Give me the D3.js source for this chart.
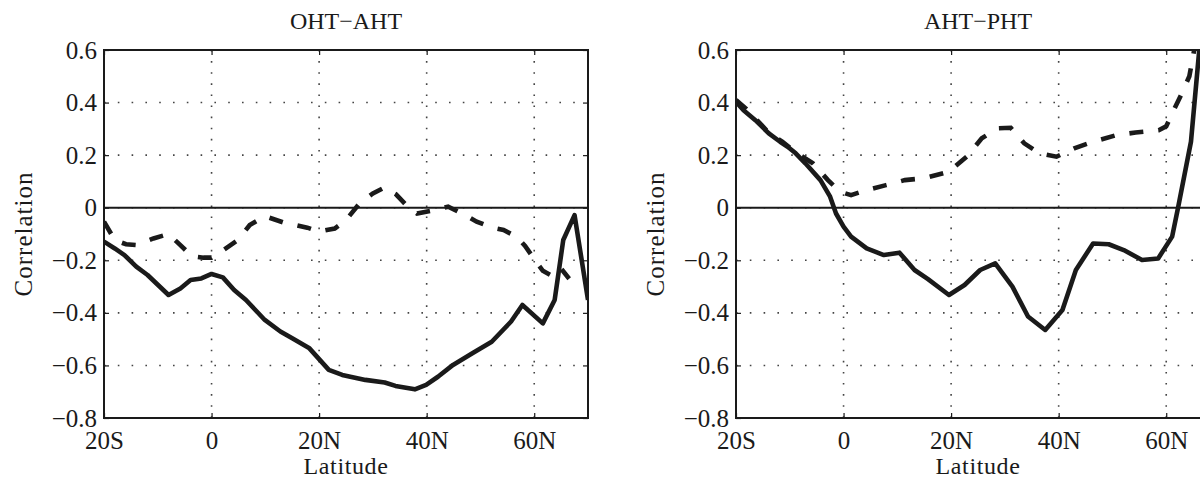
<!DOCTYPE html>
<html>
<head>
<meta charset="utf-8">
<script src="https://cdnjs.cloudflare.com/ajax/libs/d3/7.8.5/d3.min.js"></script>
<style>
  body { margin: 0; background: #fff; }
  svg { display: block; }
  svg text { font-family: 'Liberation Serif', 'Times New Roman', serif; }
</style>
</head>
<body>
<svg id="svg" width="1200" height="480"></svg>
<script>
// --- DATA ---
const latTicks = [-20, 0, 20, 40, 60];
const latTickLabels = ["20S", "0", "20N", "40N", "60N"];
const corrTicks = [0.6, 0.4, 0.2, 0, -0.2, -0.4, -0.6, -0.8];
const corrTickLabels = ["0.6", "0.4", "0.2", "0", "\u22120.2", "\u22120.4", "\u22120.6", "\u22120.8"];

// OHT-AHT, solid
const ohtAhtSolidLat = [-20, -18, -16.2, -14, -11.9, -8, -5.8, -3.9, -1.9, 0, 2.1, 4.2, 6.4, 9.9, 12.8, 15, 18.2, 21.8, 24.3, 28.6, 32.2, 34.2, 37.8, 39.9, 42.1, 44.9, 48.5, 52.1, 55.7, 57.8, 61.6, 63.8, 65.4, 67.5, 70];
const ohtAhtSolid = [-0.129, -0.155, -0.18, -0.224, -0.256, -0.332, -0.307, -0.275, -0.269, -0.252, -0.265, -0.313, -0.351, -0.427, -0.471, -0.497, -0.535, -0.617, -0.636, -0.655, -0.665, -0.678, -0.691, -0.674, -0.643, -0.598, -0.554, -0.51, -0.433, -0.37, -0.44, -0.351, -0.123, -0.028, -0.351];

// OHT-AHT, dashed
const ohtAhtDashLat = [-20, -18, -15.9, -14, -10.8, -8, -5.8, -3.7, -1.5, 0, 2.1, 4.9, 7.1, 9.9, 13.5, 15.7, 17.8, 20, 22.9, 25, 27.5, 30, 32.2, 34.3, 36.8, 38.2, 41.4, 44, 47.2, 49.3, 52.2, 54.3, 56.7, 58.3, 60, 61.6, 63.4, 65, 66.5];
const ohtAhtDash = [-0.053, -0.123, -0.139, -0.142, -0.117, -0.1, -0.142, -0.184, -0.19, -0.19, -0.163, -0.123, -0.066, -0.032, -0.057, -0.066, -0.076, -0.091, -0.079, -0.047, 0.016, 0.054, 0.077, 0.051, -0.003, -0.022, -0.009, 0.004, -0.028, -0.053, -0.076, -0.085, -0.11, -0.145, -0.195, -0.24, -0.26, -0.232, -0.27];

// AHT-PHT, solid
const ahtPhtSolidLat = [-20, -18.6, -16.4, -13.9, -11.8, -10.4, -8.9, -7.1, -4.3, -2.5, -1.4, 0, 1.4, 4.3, 7.5, 10.4, 13.2, 15.7, 19.6, 22.5, 25.4, 28.2, 31.4, 34.3, 37.5, 40.7, 43.2, 46.4, 49.3, 52.1, 55.5, 58.5, 61.1, 62.2, 64.6, 66.5];
const ahtPhtSolid = [0.403, 0.371, 0.333, 0.283, 0.251, 0.232, 0.207, 0.169, 0.105, 0.042, -0.022, -0.072, -0.11, -0.155, -0.18, -0.171, -0.237, -0.272, -0.332, -0.294, -0.237, -0.212, -0.3, -0.414, -0.465, -0.389, -0.237, -0.136, -0.139, -0.161, -0.199, -0.193, -0.11, 0.0, 0.251, 0.68];

// AHT-PHT, dashed
const ahtPhtDashLat = [-20, -18.2, -16.4, -13.9, -11.4, -8.6, -5.7, -2.9, -0.7, 1.4, 4.3, 7.9, 11.4, 15, 19.6, 22.9, 25.7, 28.6, 31.1, 33.6, 36.4, 39.6, 42.9, 46.4, 50.7, 54.3, 58.6, 60, 61.4, 62.9, 64.3, 65.2, 66.5];
const ahtPhtDash = [0.41, 0.378, 0.34, 0.285, 0.251, 0.207, 0.169, 0.105, 0.061, 0.048, 0.067, 0.086, 0.105, 0.112, 0.137, 0.194, 0.264, 0.302, 0.304, 0.245, 0.207, 0.194, 0.226, 0.251, 0.276, 0.286, 0.295, 0.31, 0.371, 0.435, 0.5, 0.6, 0.75];

// --- LAYOUT ---
const PLOT_W = 484, PLOT_H = 368, TOP = 50;
const FONT = 25;
const SERIF = "'Liberation Serif', 'Times New Roman', serif";
const INK = "#1a1a1a";

const svg = d3.select("#svg");
svg.append("rect").attr("width", 1200).attr("height", 480).attr("fill", "#fff");

function drawPanel(left, title, id, solidLat, solid, dashLat, dash) {
  const g = svg.append("g").attr("transform", `translate(${left},${TOP})`);

  const x = d3.scaleLinear().domain([-20, 70]).range([0, PLOT_W]);
  const y = d3.scaleLinear().domain([-0.8, 0.6]).range([PLOT_H, 0]);

  // dotted grid
  g.append("g").selectAll("line").data(latTicks.slice(1)).enter().append("line")
    .attr("x1", d => x(d)).attr("x2", d => x(d))
    .attr("y1", 0).attr("y2", PLOT_H)
    .attr("stroke", "#444").attr("stroke-width", 1.6)
    .attr("stroke-dasharray", "1.6,9.5");
  g.append("g").selectAll("line").data(corrTicks.slice(1, -1)).enter().append("line")
    .attr("x1", 0).attr("x2", PLOT_W)
    .attr("y1", d => y(d)).attr("y2", d => y(d))
    .attr("stroke", "#444").attr("stroke-width", 1.6)
    .attr("stroke-dasharray", "1.6,12.2");

  // zero line
  g.append("line")
    .attr("x1", 0).attr("x2", PLOT_W)
    .attr("y1", y(0)).attr("y2", y(0))
    .attr("stroke", INK).attr("stroke-width", 2);

  // clip
  g.append("clipPath").attr("id", "clip-" + id)
    .append("rect").attr("width", PLOT_W).attr("height", PLOT_H);

  const line = d3.line().x(d => x(d[0])).y(d => y(d[1]));
  const lines = g.append("g").attr("clip-path", `url(#clip-${id})`);

  lines.append("path")
    .datum(d3.zip(dashLat, dash))
    .attr("d", line)
    .attr("fill", "none").attr("stroke", INK)
    .attr("stroke-width", 4.6)
    .attr("stroke-dasharray", "14,15");

  lines.append("path")
    .datum(d3.zip(solidLat, solid))
    .attr("d", line)
    .attr("fill", "none").attr("stroke", INK)
    .attr("stroke-width", 4.6)
    .attr("stroke-linejoin", "round");

  // axes
  const axes = [
    g.append("g")
      .call(d3.axisLeft(y).tickValues(corrTicks).tickSize(-5).tickPadding(7)
        .tickFormat((d, i) => corrTickLabels[i])),
    g.append("g").attr("transform", `translate(0,${PLOT_H})`)
      .call(d3.axisBottom(x).tickValues(latTicks).tickSize(-5).tickPadding(13)
        .tickFormat((d, i) => latTickLabels[i])),
    g.append("g").attr("transform", `translate(${PLOT_W},0)`)
      .call(d3.axisRight(y).tickValues(corrTicks).tickSize(-5).tickFormat("")),
    g.append("g")
      .call(d3.axisTop(x).tickValues(latTicks).tickSize(-5).tickFormat(""))
  ];
  axes.forEach(a => a.attr("font-family", SERIF).attr("font-size", FONT));

  g.selectAll(".domain").remove();
  g.selectAll(".tick line").attr("stroke", INK).attr("stroke-width", 1.2);
  g.selectAll(".tick text").attr("fill", INK);

  // box
  g.append("rect")
    .attr("width", PLOT_W).attr("height", PLOT_H)
    .attr("fill", "none").attr("stroke", INK).attr("stroke-width", 2);

  // labels
  g.append("text")
    .attr("x", PLOT_W / 2).attr("y", -21)
    .attr("text-anchor", "middle")
    .attr("font-size", 24).attr("fill", INK)
    .text(title);

  g.append("text")
    .attr("x", PLOT_W / 2).attr("y", PLOT_H + 56)
    .attr("text-anchor", "middle")
    .attr("font-size", 24).style("letter-spacing", "0.6px").attr("fill", INK)
    .text("Latitude");

  g.append("text")
    .attr("transform", `translate(-72,${PLOT_H / 2}) rotate(-90)`)
    .attr("text-anchor", "middle")
    .attr("font-size", FONT).style("letter-spacing", "1px").attr("fill", INK)
    .text("Correlation");
}

drawPanel(104, "OHT\u2212AHT", "a", ohtAhtSolidLat, ohtAhtSolid, ohtAhtDashLat, ohtAhtDash);
drawPanel(736, "AHT\u2212PHT", "b", ahtPhtSolidLat, ahtPhtSolid, ahtPhtDashLat, ahtPhtDash);
</script>
</body>
</html>
